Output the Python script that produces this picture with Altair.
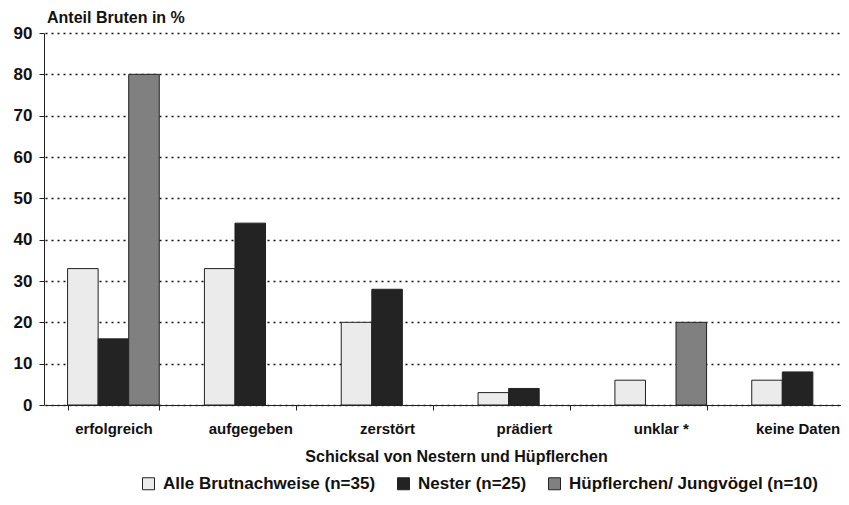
import altair as alt
import pandas as pd

categories = ["erfolgreich", "aufgegeben", "zerstört", "prädiert", "unklar *", "keine Daten"]
series = ["Alle Brutnachweise (n=35)", "Nester (n=25)", "Hüpflerchen/ Jungvögel (n=10)"]
alle = [33, 33, 20, 3, 6, 6]
nester = [16, 44, 28, 4, 0, 8]
huepf = [80, 0, 0, 0, 20, 0]
colors = ["#ebebeb", "#232323", "#808080"]
y_ticks = [0, 10, 20, 30, 40, 50, 60, 70, 80, 90]

rows = []
for s, vals in zip(series, [alle, nester, huepf]):
    for c, v in zip(categories, vals):
        rows.append({"cat": c, "series": s, "value": v})
df = pd.DataFrame(rows)

FONT = "Liberation Sans"

chart = alt.Chart(df).transform_filter("datum.value > 0").mark_bar(
    stroke="#222222", strokeWidth=1
).encode(
    x=alt.X("cat:N", sort=categories,
            scale=alt.Scale(paddingInner=0.33, paddingOuter=0.165, range=[1, 822]),
            axis=alt.Axis(title="Schicksal von Nestern und Hüpflerchen", labelAngle=0,
                          tickBand="extent", domainColor="#222", tickColor="#222",
                          tickSize=5, labelFontSize=15, labelFontWeight="bold",
                          labelColor="#111", labelPadding=11, titleFontSize=16,
                          titleFontWeight="bold", titleColor="#111", titlePadding=12,
                          titleX=412, titleAnchor="middle", grid=False)),
    xOffset=alt.XOffset("series:N", sort=series,
                        scale=alt.Scale(domain=series, paddingInner=0, paddingOuter=0)),
    y=alt.Y("value:Q", scale=alt.Scale(domain=[0, 90], nice=False),
            axis=alt.Axis(title=None, values=y_ticks, domainColor="#222", tickColor="#222",
                          tickSize=5, labelFontSize=17, labelFontWeight="bold",
                          labelColor="#111", labelPadding=7, grid=True,
                          gridColor="#111", gridDash=[2, 4], gridWidth=1.6)),
    color=alt.Color("series:N", sort=series,
                    scale=alt.Scale(domain=series, range=colors),
                    legend=alt.Legend(title=None, orient="none", direction="horizontal",
                                      legendX=96, legendY=442,
                                      symbolType="square", symbolSize=144,
                                      symbolStrokeColor="#222", symbolStrokeWidth=1,
                                      labelFontSize=17, labelFontWeight="bold",
                                      labelLimit=0, labelOffset=6,
                                      labelColor="#111", columnPadding=19)),
).properties(
    width=797, height=372,
    title=alt.TitleParams("Anteil Bruten in %", anchor="start", frame="group",
                          fontSize=16, fontWeight="bold", color="#111", dx=3, dy=12,
                          offset=10, font=FONT),
    padding={"left": 36, "top": 25, "right": 0, "bottom": 90},
    autosize=alt.AutoSizeParams(type="none"),
).configure(font=FONT).configure_view(stroke=None)

chart.save("out.html", embed_options={"renderer": "svg", "actions": False})
